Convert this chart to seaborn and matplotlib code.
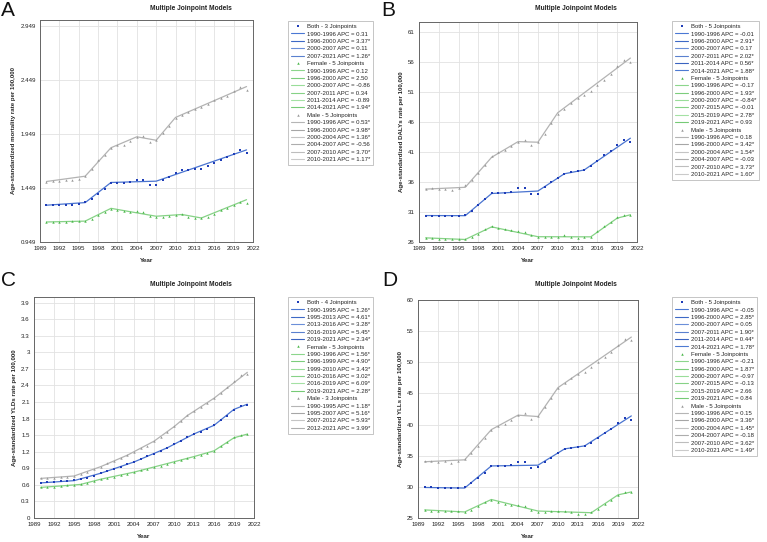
import matplotlib
matplotlib.use("Agg")
import matplotlib.pyplot as plt
from matplotlib.lines import Line2D
import seaborn as sns
import pandas as pd

years = list(range(1990, 2022))

# ---- A: mortality ----
a_both = [1.289, 1.289, 1.289, 1.295, 1.295, 1.304, 1.316, 1.350, 1.397, 1.443, 1.492, 1.498,
          1.492, 1.501, 1.520, 1.520, 1.474, 1.477, 1.520, 1.554, 1.591, 1.613, 1.613, 1.619,
          1.625, 1.650, 1.681, 1.702, 1.730, 1.764, 1.798, 1.773]
a_female = [1.134, 1.134, 1.134, 1.137, 1.140, 1.140, 1.143, 1.162, 1.196, 1.224, 1.258, 1.248,
            1.233, 1.224, 1.233, 1.230, 1.190, 1.177, 1.184, 1.190, 1.196, 1.208, 1.180, 1.174,
            1.168, 1.184, 1.211, 1.242, 1.267, 1.295, 1.319, 1.310]
a_male = [1.505, 1.511, 1.514, 1.520, 1.520, 1.535, 1.560, 1.628, 1.705, 1.751, 1.813, 1.844,
          1.844, 1.884, 1.921, 1.927, 1.872, 1.890, 1.952, 2.020, 2.097, 2.122, 2.153, 2.174,
          2.193, 2.221, 2.261, 2.276, 2.301, 2.344, 2.378, 2.353]
a_both_jp = [1990, 1996, 2000, 2007, 2021]
a_both_fit = [1.289, 1.313, 1.499, 1.511, 1.800]
a_both_apc = ["0.31", "3.37*", "0.11", "1.26*"]
a_female_jp = [1990, 1996, 2000, 2007, 2011, 2014, 2021]
a_female_fit = [1.134, 1.142, 1.260, 1.187, 1.203, 1.171, 1.340]
a_female_apc = ["0.12", "2.50", "-0.86", "0.34", "-0.89", "1.94*"]
a_male_jp = [1990, 1996, 2000, 2004, 2007, 2010, 2021]
a_male_fit = [1.508, 1.557, 1.820, 1.921, 1.889, 2.100, 2.385]
a_male_apc = ["0.53*", "3.98*", "1.36*", "-0.56", "3.70*", "1.17*"]

# ---- B: DALYs ----
b_both = [30.40, 30.35, 30.30, 30.30, 30.30, 30.35, 30.50, 31.20, 32.10, 33.10, 34.10, 34.20,
          34.20, 34.40, 35.00, 35.00, 34.00, 34.00, 35.20, 36.00, 36.70, 37.30, 37.60, 37.80,
          38.00, 38.70, 39.50, 40.40, 41.20, 42.10, 42.90, 42.70]
b_female = [26.70, 26.60, 26.55, 26.50, 26.50, 26.45, 26.45, 26.80, 27.40, 28.10, 28.60, 28.40,
            28.10, 28.00, 27.90, 27.70, 27.10, 26.80, 26.80, 26.90, 26.90, 27.10, 26.90, 26.70,
            26.80, 26.90, 27.90, 28.60, 29.30, 30.10, 30.50, 30.50]
b_male = [34.80, 35.00, 34.90, 34.90, 34.70, 35.00, 35.50, 36.30, 37.50, 38.80, 40.30, 40.90,
          41.30, 42.00, 42.70, 43.00, 42.20, 42.70, 44.00, 45.80, 47.30, 48.20, 49.20, 49.90,
          50.40, 51.20, 52.10, 53.00, 54.00, 55.20, 56.30, 56.00]
b_both_jp = [1990, 1996, 2000, 2007, 2011, 2014, 2021]
b_both_fit = [30.40, 30.38, 34.07, 34.48, 37.35, 37.98, 43.27]
b_both_apc = ["-0.01", "2.91*", "0.17", "2.02*", "0.56*", "1.88*"]
b_female_jp = [1990, 1996, 2000, 2007, 2015, 2019, 2021]
b_female_fit = [26.69, 26.42, 28.52, 26.88, 26.86, 29.97, 30.53]
b_female_apc = ["-0.17", "1.93*", "-0.84*", "-0.01", "2.78*", "0.93"]
b_male_jp = [1990, 1996, 2000, 2004, 2007, 2010, 2021]
b_male_fit = [34.80, 35.10, 40.10, 42.70, 42.60, 47.50, 56.60]
b_male_apc = ["0.18", "3.42*", "1.54*", "-0.03", "3.73*", "1.60*"]

# ---- C: YLDs ----
c_both = [0.640, 0.650, 0.657, 0.663, 0.670, 0.680, 0.700, 0.725, 0.765, 0.810, 0.855, 0.890,
          0.930, 0.975, 1.020, 1.070, 1.115, 1.160, 1.215, 1.275, 1.340, 1.400, 1.460, 1.520,
          1.565, 1.615, 1.675, 1.765, 1.855, 1.960, 2.020, 2.050]
c_female = [0.555, 0.560, 0.570, 0.580, 0.590, 0.600, 0.610, 0.640, 0.670, 0.700, 0.720, 0.745,
            0.770, 0.800, 0.830, 0.860, 0.890, 0.920, 0.950, 0.985, 1.020, 1.050, 1.080, 1.110,
            1.145, 1.180, 1.215, 1.300, 1.380, 1.460, 1.500, 1.520]
c_male = [0.720, 0.730, 0.730, 0.740, 0.750, 0.760, 0.790, 0.830, 0.880, 0.930, 0.990, 1.040,
          1.090, 1.140, 1.200, 1.260, 1.310, 1.390, 1.470, 1.560, 1.660, 1.760, 1.860, 1.930,
          2.010, 2.090, 2.170, 2.260, 2.370, 2.480, 2.580, 2.600]
c_both_jp = [1990, 1995, 2013, 2016, 2019, 2021]
c_both_apc = ["1.26*", "4.61*", "3.28*", "5.45*", "2.34*"]
c_both_curve_x = [1990, 1995, 1999, 2004, 2009, 2013, 2016, 2019, 2021]
c_both_curve_y = [0.635, 0.676, 0.810, 1.014, 1.271, 1.522, 1.677, 1.967, 2.060]
c_female_jp = [1990, 1996, 1999, 2010, 2016, 2019, 2021]
c_female_apc = ["1.56*", "4.90*", "3.43*", "3.02*", "6.09*", "2.28*"]
c_female_curve_x = [1990, 1993, 1996, 1999, 2004, 2010, 2013, 2016, 2019, 2021]
c_female_curve_y = [0.554, 0.580, 0.608, 0.702, 0.830, 1.017, 1.112, 1.216, 1.452, 1.519]
c_male_jp = [1990, 1995, 2007, 2012, 2021]
c_male_apc = ["1.18*", "5.16*", "5.93*", "3.99*"]
c_male_curve_x = [1990, 1995, 1999, 2003, 2007, 2010, 2012, 2016, 2021]
c_male_curve_y = [0.717, 0.760, 0.929, 1.137, 1.390, 1.652, 1.854, 2.168, 2.637]

# ---- D: YLLs ----
d_both = [30.00, 29.90, 29.80, 29.80, 29.75, 29.85, 29.95, 30.60, 31.40, 32.30, 33.30, 33.40,
          33.30, 33.50, 33.95, 33.95, 33.10, 33.20, 33.95, 34.70, 35.50, 36.00, 36.30, 36.45,
          36.60, 37.10, 37.80, 38.60, 39.30, 40.20, 41.00, 40.80]
d_female = [26.30, 26.20, 26.15, 26.10, 26.10, 26.05, 26.00, 26.30, 26.90, 27.50, 27.90, 27.60,
            27.30, 27.10, 27.10, 26.90, 26.30, 25.90, 26.00, 26.10, 26.10, 26.20, 25.90, 25.70,
            25.70, 25.90, 26.50, 27.20, 27.90, 28.70, 29.10, 29.10]
d_male = [34.10, 34.10, 34.00, 34.10, 33.90, 34.20, 34.50, 35.40, 36.50, 37.80, 39.20, 39.80,
          40.10, 40.80, 41.60, 41.80, 40.90, 41.30, 42.80, 44.30, 45.80, 46.70, 47.50, 48.10,
          48.50, 49.20, 50.10, 50.80, 51.60, 52.70, 53.80, 53.50]
d_both_jp = [1990, 1996, 2000, 2007, 2011, 2014, 2021]
d_both_fit = [29.90, 29.81, 33.36, 33.48, 36.10, 36.58, 41.39]
d_both_apc = ["-0.05", "2.85*", "0.05", "1.90*", "0.44*", "1.78*"]
d_female_jp = [1990, 1996, 2000, 2007, 2015, 2019, 2021]
d_female_fit = [26.30, 25.97, 27.97, 26.12, 25.85, 28.71, 29.19]
d_female_apc = ["-0.21", "1.87*", "-0.97", "-0.13", "2.66", "0.84"]
d_male_jp = [1990, 1996, 2000, 2004, 2007, 2010, 2021]
d_male_fit = [34.03, 34.34, 39.19, 41.51, 41.29, 45.93, 54.05]
d_male_apc = ["0.15", "3.36*", "1.45*", "-0.18", "3.62*", "1.49*"]

# styling
BLUE_PT = "#1f3db8"
GREEN_PT = "#4cb84c"
GRAY_PT = "#9a9a9a"
BLUE_LN = "#4a74d0"
GREEN_LN = "#86d286"
GRAY_LN = "#b3b3b3"
blue_shades = ["#4a78d4", "#3d69c6", "#6b8fd9", "#5a80cf", "#3a63c0", "#4d7ad2"]
green_shades = ["#8cd68c", "#7ccd7c", "#99dd99", "#86d286", "#a4e1a4", "#76ca76"]
gray_shades = ["#b5b5b5", "#a6a6a6", "#c4c4c4", "#adadad", "#bdbdbd", "#cacaca"]

sns.set_theme(style="whitegrid")
plt.rcParams["font.family"] = ["Liberation Sans", "DejaVu Sans"]

W, H = 767, 542
fig = plt.figure(figsize=(W / 100, H / 100), dpi=100)


def px_axes(left, top, right, bottom):
    return fig.add_axes([left / W, 1 - bottom / H, (right - left) / W, (bottom - top) / H])


def draw_panel(ax, series, ylim, yticks, yticklabels, ylabel):
    for s in series:
        df = pd.DataFrame({"Year": years, "Rate": s["pts"]})
        sns.scatterplot(data=df, x="Year", y="Rate", ax=ax, color=s["pcolor"],
                        marker=s["marker"], s=s["msize"], linewidth=0, zorder=3)
        fit = pd.DataFrame({"Year": s["cx"], "Rate": s["cy"]})
        sns.lineplot(data=fit, x="Year", y="Rate", ax=ax, color=s["lcolor"],
                     linewidth=0.9, zorder=2)
    ax.set_xlim(1989, 2022)
    ax.set_xticks(list(range(1989, 2023, 3)))
    ax.set_ylim(*ylim)
    ax.set_yticks(yticks)
    ax.set_yticklabels(yticklabels)
    ax.tick_params(labelsize=4.4, length=1.5, pad=1.5, colors="#222222")
    ax.grid(True, color="#e2e2e2", linewidth=0.6)
    for sp in ax.spines.values():
        sp.set_color("#666666")
        sp.set_linewidth(0.7)
    ax.set_xlabel("Year", fontsize=4.6, fontweight="bold", labelpad=5)
    ax.set_ylabel(ylabel, fontsize=4.4, fontweight="bold", labelpad=3)


def add_legend(left, top, series):
    handles = []
    labels = []
    for s in series:
        handles.append(Line2D([], [], color=s["pcolor"], marker=s["marker"], linestyle="none",
                              markersize=1.8, markeredgewidth=0))
        labels.append(s["label"])
        jp = s["jp"]
        for i, val in enumerate(s["apc"]):
            handles.append(Line2D([], [], color=s["shades"][i], linewidth=0.8))
            labels.append(f"{jp[i]}-{jp[i + 1]} APC = {val}")
    leg = fig.legend(handles, labels, loc="upper left",
                     bbox_to_anchor=(left / W, 1 - top / H), fontsize=4.3,
                     frameon=True, fancybox=False, framealpha=1, edgecolor="#bbbbbb",
                     labelspacing=0.37, handlelength=2.2, handletextpad=0.45,
                     borderpad=0.5, borderaxespad=0)
    leg.get_frame().set_linewidth(0.6)


def make_series(pts, jps, curves, apcs, counts):
    styles = [("Both", BLUE_PT, BLUE_LN, blue_shades, "s", 4),
              ("Female", GREEN_PT, GREEN_LN, green_shades, "^", 3),
              ("Male", GRAY_PT, GRAY_LN, gray_shades, "^", 3)]
    out = []
    for (name, pc, lc, sh, mk, ms), p, jp, (cx, cy), apc, n in zip(styles, pts, jps, curves, apcs, counts):
        out.append(dict(label=f"{name} - {n} Joinpoints", pts=p, jp=jp, cx=cx, cy=cy, apc=apc,
                        pcolor=pc, lcolor=lc, shades=sh, marker=mk, msize=ms))
    return out


series_a = make_series((a_both, a_female, a_male), (a_both_jp, a_female_jp, a_male_jp),
                       ((a_both_jp, a_both_fit), (a_female_jp, a_female_fit), (a_male_jp, a_male_fit)),
                       (a_both_apc, a_female_apc, a_male_apc), (3, 5, 5))
series_b = make_series((b_both, b_female, b_male), (b_both_jp, b_female_jp, b_male_jp),
                       ((b_both_jp, b_both_fit), (b_female_jp, b_female_fit), (b_male_jp, b_male_fit)),
                       (b_both_apc, b_female_apc, b_male_apc), (5, 5, 5))
series_c = make_series((c_both, c_female, c_male), (c_both_jp, c_female_jp, c_male_jp),
                       ((c_both_curve_x, c_both_curve_y), (c_female_curve_x, c_female_curve_y),
                        (c_male_curve_x, c_male_curve_y)),
                       (c_both_apc, c_female_apc, c_male_apc), (4, 5, 3))
series_d = make_series((d_both, d_female, d_male), (d_both_jp, d_female_jp, d_male_jp),
                       ((d_both_jp, d_both_fit), (d_female_jp, d_female_fit), (d_male_jp, d_male_fit)),
                       (d_both_apc, d_female_apc, d_male_apc), (5, 5, 5))

a_ticks = [0.949, 1.449, 1.949, 2.449, 2.949]
b_ticks = [26, 31, 36, 41, 46, 51, 56, 61]
c_ticks = [0, 0.3, 0.6, 0.9, 1.2, 1.5, 1.8, 2.1, 2.4, 2.7, 3.0, 3.3, 3.6, 3.9]
d_ticks = [25, 30, 35, 40, 45, 50, 55, 60]

ax_a = px_axes(40, 20, 253, 242)
draw_panel(ax_a, series_a, (0.949, 3.0), a_ticks, [f"{t:.3f}" for t in a_ticks],
           "Age-standardized mortality rate per 100,000")
ax_b = px_axes(419, 22, 637, 242)
draw_panel(ax_b, series_b, (26, 62.6), b_ticks, [str(t) for t in b_ticks],
           "Age-standardized DALYs rate per 100,000")
ax_c = px_axes(34, 297, 254, 518)
draw_panel(ax_c, series_c, (0, 4.0), c_ticks, [f"{t:g}" for t in c_ticks],
           "Age-standardized YLDs rate per 100,000")
ax_d = px_axes(418, 300, 638, 518)
draw_panel(ax_d, series_d, (25, 60), d_ticks, [str(t) for t in d_ticks],
           "Age-standardized YLLs rate per 100,000")

add_legend(288, 21, series_a)
add_legend(672, 21, series_b)
add_legend(288, 297, series_c)
add_legend(672, 297, series_d)

for x, y in [(191, 9), (576, 9), (191, 284), (576, 284)]:
    fig.text(x / W, 1 - y / H, "Multiple Joinpoint Models", ha="center", va="center",
             fontsize=4.8, fontweight="bold", color="#222222")

for letter, x, y in [("A", 1, 1), ("B", 381, 1), ("C", 1, 271), ("D", 382, 271)]:
    fig.text(x / W, 1 - y / H, letter, ha="left", va="top", fontsize=15, color="#111111")

fig.savefig("out.png", dpi=100)
